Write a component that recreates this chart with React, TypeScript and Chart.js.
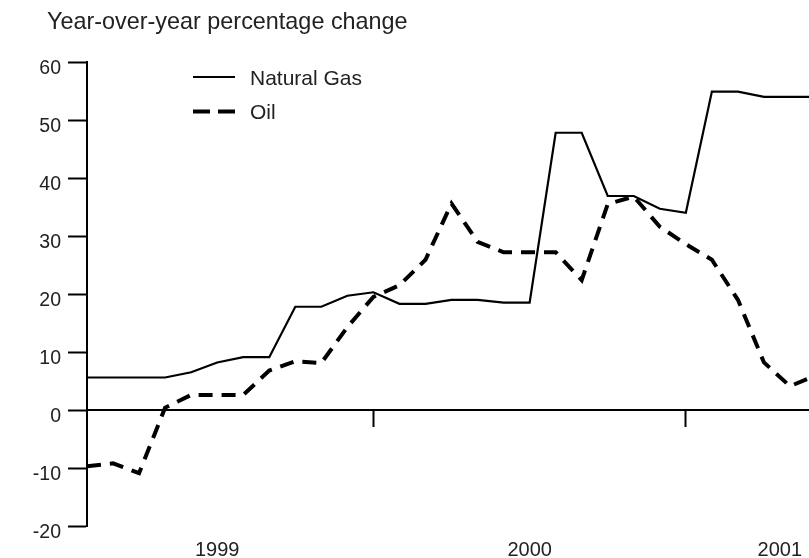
import React, { useEffect, useRef } from "react";
import { Chart, registerables } from "chart.js";

Chart.register(...registerables);

// ---- data ----
const TITLE = "Year-over-year percentage change";
const monthLabels = [
  "1999-02", "1999-03", "1999-04", "1999-05", "1999-06", "1999-07", "1999-08",
  "1999-09", "1999-10", "1999-11", "1999-12", "2000-01", "2000-02", "2000-03",
  "2000-04", "2000-05", "2000-06", "2000-07", "2000-08", "2000-09", "2000-10",
  "2000-11", "2000-12", "2001-01", "2001-02", "2001-03", "2001-04", "2001-05",
  "2001-06",
];
const naturalGas = [
  5.6, 5.6, 5.6, 5.6, 6.5, 8.2, 9.1, 9.1, 17.8, 17.8, 19.7, 20.3, 18.3, 18.3,
  19.0, 19.0, 18.5, 18.5, 47.8, 47.8, 36.9, 36.9, 34.7, 34.0, 54.9, 54.9, 54.0,
  54.0, 54.0,
];
const oil = [
  -9.7, -9.2, -10.9, 0.4, 2.6, 2.6, 2.6, 6.8, 8.4, 8.1, 14.3, 19.5, 21.5, 25.9,
  35.6, 29.0, 27.2, 27.2, 27.2, 22.4, 35.5, 36.8, 31.6, 28.6, 25.9, 19.0, 8.2,
  4.1, 6.0,
];
const seriesNames = ["Natural Gas", "Oil"];
const yearLabels = ["1999", "2000", "2001"];
const yTicks = [-20, -10, 0, 10, 20, 30, 40, 50, 60];

// month index: Jan 1999 = 0
const monthIndex = (s: string) => {
  const [y, m] = s.split("-").map(Number);
  return (y - 1999) * 12 + (m - 1);
};
const yearStart = (label: string) => (Number(label) - 1999) * 12;

const FONT = '"Liberation Sans", Arial, Helvetica, sans-serif';
const TEXT = "#222";
const LINE = "#000";

const overlayPlugin = {
  id: "overlay",
  afterDraw(chart: any) {
    const { ctx, chartArea, scales } = chart;
    const xs = scales.x;
    ctx.save();
    ctx.fillStyle = TEXT;
    ctx.textBaseline = "alphabetic";
    // title
    ctx.font = `23.4px ${FONT}`;
    ctx.textAlign = "left";
    ctx.fillText(TITLE, 47, 29);
    // year labels, centred on each year, kept inside the plot
    ctx.font = `20px ${FONT}`;
    ctx.textAlign = "center";
    yearLabels.forEach((lab) => {
      const w = ctx.measureText(lab).width;
      let cx = xs.getPixelForValue(yearStart(lab) + 6);
      cx = Math.min(cx, chartArea.right - 7 - w / 2);
      ctx.fillText(lab, cx, chartArea.bottom + 30);
    });
    // legend
    const lx = chartArea.left + 106;
    const tx = chartArea.left + 163;
    chart.data.datasets.forEach((ds: any, i: number) => {
      const ly = chartArea.top + 15 + i * 34.5;
      ctx.save();
      ctx.strokeStyle = ds.borderColor;
      ctx.lineWidth = ds.borderWidth;
      ctx.setLineDash(ds.borderDash && ds.borderDash.length ? [17, 8] : []);
      ctx.beginPath();
      ctx.moveTo(lx, ly);
      ctx.lineTo(lx + 42, ly);
      ctx.stroke();
      ctx.restore();
      ctx.font = `21px ${FONT}`;
      ctx.textAlign = "left";
      ctx.textBaseline = "alphabetic";
      ctx.fillStyle = TEXT;
      ctx.fillText(ds.label, tx, ly + 7.5);
    });
    ctx.restore();
  },
};

export default function App() {
  const ref = useRef<HTMLCanvasElement>(null);
  useEffect(() => {
    if (!ref.current) return;
    const xVals = monthLabels.map(monthIndex);
    const chart = new Chart(ref.current, {
      type: "line",
      data: {
        datasets: [
          {
            label: seriesNames[0],
            data: xVals.map((x, i) => ({ x, y: naturalGas[i] })),
            borderColor: LINE,
            borderWidth: 2.2,
            pointRadius: 0,
            tension: 0,
            fill: false,
          },
          {
            label: seriesNames[1],
            data: xVals.map((x, i) => ({ x, y: oil[i] })),
            borderColor: LINE,
            borderWidth: 4,
            borderDash: [14, 9],
            pointRadius: 0,
            tension: 0,
            fill: false,
          },
        ],
      },
      options: {
        animation: false,
        responsive: false,
        layout: { padding: { top: 62, bottom: 32, left: 0, right: 0 } },
        plugins: {
          legend: { display: false },
          tooltip: { enabled: false },
          title: { display: false },
        },
        scales: {
          x: {
            type: "linear",
            min: 1,
            max: 28.73,
            position: { y: 0 } as any,
            afterBuildTicks: (scale: any) => {
              scale.ticks = yearLabels
                .map((l) => yearStart(l))
                .filter((v) => v > scale.min && v < scale.max)
                .map((v) => ({ value: v }));
            },
            ticks: { display: false },
            grid: {
              drawOnChartArea: false,
              drawTicks: true,
              tickLength: 16,
              tickWidth: 2,
              tickColor: LINE,
            },
            border: { display: true, color: LINE, width: 2 },
          },
          y: {
            type: "linear",
            min: -20,
            max: 60,
            afterBuildTicks: (scale: any) => {
              scale.ticks = yTicks.map((v) => ({ value: v }));
            },
            afterFit: (scale: any) => {
              scale.width = 87;
            },
            ticks: {
              color: TEXT,
              font: { family: FONT, size: 19.5 },
              padding: 7,
              labelOffset: 7,
            },
            grid: {
              drawOnChartArea: false,
              drawTicks: true,
              tickLength: 19,
              tickWidth: 2,
              tickColor: LINE,
            },
            border: { display: true, color: LINE, width: 2 },
          },
        },
      },
      plugins: [overlayPlugin],
    });
    return () => chart.destroy();
  }, []);

  return (
    <div style={{ position: "absolute", left: 0, top: 0, width: 809, height: 558, background: "#fff" }}>
      <canvas ref={ref} width={809} height={558} style={{ display: "block" }} />
    </div>
  );
}
